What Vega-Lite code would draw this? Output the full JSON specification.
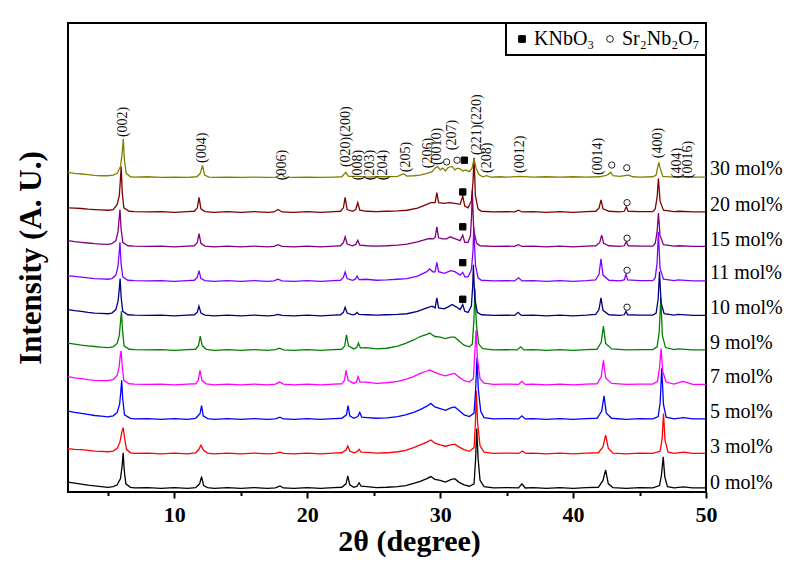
{
"$schema":"https://vega.github.io/schema/vega-lite/v6.json",
"width":638,"height":469,
"autosize":{"type":"none"},
"padding":{"left":68,"top":23,"right":93,"bottom":89},
"background":"white",
"config":{"font":"Liberation Serif","view":{"stroke":"black","strokeWidth":2},
"legend":{"labelFont":"Liberation Serif","labelFontSize":20,"labelColor":"black","symbolSize":45,"symbolStrokeColor":"black","symbolStrokeWidth":1,"strokeColor":"black","strokeWidth":2,"fillColor":"white","padding":6,"labelOffset":2,"columnPadding":5,"symbolOffset":0}},
"layer":[
{"data":{"values":[
{"s":"0","x":2,"y":0.2},{"s":"0","x":2.5,"y":0.17},{"s":"0","x":3,"y":0.14},{"s":"0","x":3.5,"y":0.11},{"s":"0","x":4,"y":0.09},{"s":"0","x":4.5,"y":0.07},{"s":"0","x":5,"y":0.05},{"s":"0","x":5.4,"y":0.07},{"s":"0","x":5.7,"y":0.12},{"s":"0","x":5.95,"y":0.3},{"s":"0","x":6.08,"y":0.7},{"s":"0","x":6.15,"y":1.05},{"s":"0","x":6.23,"y":0.55},{"s":"0","x":6.35,"y":0.15},{"s":"0","x":6.7,"y":0.05},{"s":"0","x":7,"y":0.03},{"s":"0","x":8,"y":0.04},{"s":"0","x":9,"y":0.02},{"s":"0","x":10,"y":0.04},{"s":"0","x":11,"y":0.02},{"s":"0","x":11.6,"y":0.04},{"s":"0","x":11.9,"y":0.15},{"s":"0","x":12.05,"y":0.36},{"s":"0","x":12.2,"y":0.1},{"s":"0","x":12.5,"y":0.04},{"s":"0","x":13,"y":0.02},{"s":"0","x":14,"y":0.04},{"s":"0","x":15,"y":0.02},{"s":"0","x":16,"y":0.04},{"s":"0","x":17,"y":0.02},{"s":"0","x":17.6,"y":0.03},{"s":"0","x":17.95,"y":0.09},{"s":"0","x":18.2,"y":0.03},{"s":"0","x":19,"y":0.02},{"s":"0","x":20,"y":0.04},{"s":"0","x":21,"y":0.02},{"s":"0","x":22,"y":0.04},{"s":"0","x":22.6,"y":0.05},{"s":"0","x":22.92,"y":0.15},{"s":"0","x":23.05,"y":0.38},{"s":"0","x":23.2,"y":0.12},{"s":"0","x":23.5,"y":0.05},{"s":"0","x":23.75,"y":0.08},{"s":"0","x":23.9,"y":0.18},{"s":"0","x":24.05,"y":0.08},{"s":"0","x":24.5,"y":0.07},{"s":"0","x":25.2,"y":0.04},{"s":"0","x":26,"y":0.05},{"s":"0","x":26.8,"y":0.07},{"s":"0","x":27.4,"y":0.1},{"s":"0","x":28,"y":0.16},{"s":"0","x":28.5,"y":0.22},{"s":"0","x":29,"y":0.3},{"s":"0","x":29.3,"y":0.36},{"s":"0","x":29.6,"y":0.28},{"s":"0","x":30,"y":0.25},{"s":"0","x":30.4,"y":0.2},{"s":"0","x":30.8,"y":0.27},{"s":"0","x":31.1,"y":0.3},{"s":"0","x":31.4,"y":0.2},{"s":"0","x":31.8,"y":0.12},{"s":"0","x":32.2,"y":0.08},{"s":"0","x":32.55,"y":0.15},{"s":"0","x":32.67,"y":0.9},{"s":"0","x":32.75,"y":1.75},{"s":"0","x":32.85,"y":0.9},{"s":"0","x":33,"y":0.25},{"s":"0","x":33.3,"y":0.07},{"s":"0","x":34,"y":0.03},{"s":"0","x":35,"y":0.04},{"s":"0","x":35.9,"y":0.03},{"s":"0","x":36.15,"y":0.15},{"s":"0","x":36.4,"y":0.03},{"s":"0","x":37,"y":0.04},{"s":"0","x":38,"y":0.02},{"s":"0","x":39,"y":0.04},{"s":"0","x":40,"y":0.02},{"s":"0","x":41,"y":0.04},{"s":"0","x":41.9,"y":0.05},{"s":"0","x":42.25,"y":0.25},{"s":"0","x":42.45,"y":0.55},{"s":"0","x":42.65,"y":0.15},{"s":"0","x":43,"y":0.04},{"s":"0","x":44,"y":0.02},{"s":"0","x":45,"y":0.04},{"s":"0","x":46,"y":0.03},{"s":"0","x":46.5,"y":0.1},{"s":"0","x":46.65,"y":0.4},{"s":"0","x":46.78,"y":0.93},{"s":"0","x":46.9,"y":0.35},{"s":"0","x":47.1,"y":0.07},{"s":"0","x":47.6,"y":0.03},{"s":"0","x":48.3,"y":0.06},{"s":"0","x":49,"y":0.03},{"s":"0","x":50,"y":0.03},
{"s":"3","x":2,"y":1.17},{"s":"3","x":2.5,"y":1.15},{"s":"3","x":3,"y":1.14},{"s":"3","x":3.5,"y":1.12},{"s":"3","x":4,"y":1.1},{"s":"3","x":4.5,"y":1.09},{"s":"3","x":5,"y":1.08},{"s":"3","x":5.4,"y":1.1},{"s":"3","x":5.7,"y":1.18},{"s":"3","x":5.9,"y":1.35},{"s":"3","x":6.05,"y":1.65},{"s":"3","x":6.15,"y":1.78},{"s":"3","x":6.25,"y":1.5},{"s":"3","x":6.4,"y":1.15},{"s":"3","x":6.7,"y":1.05},{"s":"3","x":7,"y":1.03},{"s":"3","x":8,"y":1.04},{"s":"3","x":9,"y":1.02},{"s":"3","x":10,"y":1.04},{"s":"3","x":11,"y":1.02},{"s":"3","x":11.6,"y":1.05},{"s":"3","x":11.85,"y":1.15},{"s":"3","x":12,"y":1.27},{"s":"3","x":12.2,"y":1.12},{"s":"3","x":12.5,"y":1.04},{"s":"3","x":13,"y":1.02},{"s":"3","x":14,"y":1.04},{"s":"3","x":15,"y":1.02},{"s":"3","x":16,"y":1.04},{"s":"3","x":17,"y":1.02},{"s":"3","x":17.6,"y":1.03},{"s":"3","x":17.95,"y":1.07},{"s":"3","x":18.2,"y":1.03},{"s":"3","x":19,"y":1.02},{"s":"3","x":20,"y":1.04},{"s":"3","x":21,"y":1.02},{"s":"3","x":22,"y":1.04},{"s":"3","x":22.6,"y":1.05},{"s":"3","x":22.92,"y":1.13},{"s":"3","x":23.05,"y":1.25},{"s":"3","x":23.2,"y":1.1},{"s":"3","x":23.5,"y":1.05},{"s":"3","x":23.75,"y":1.08},{"s":"3","x":23.9,"y":1.15},{"s":"3","x":24.05,"y":1.07},{"s":"3","x":24.5,"y":1.06},{"s":"3","x":25.2,"y":1.04},{"s":"3","x":26,"y":1.05},{"s":"3","x":26.8,"y":1.08},{"s":"3","x":27.4,"y":1.12},{"s":"3","x":28,"y":1.2},{"s":"3","x":28.5,"y":1.28},{"s":"3","x":29,"y":1.36},{"s":"3","x":29.3,"y":1.42},{"s":"3","x":29.6,"y":1.33},{"s":"3","x":30,"y":1.28},{"s":"3","x":30.4,"y":1.24},{"s":"3","x":30.8,"y":1.28},{"s":"3","x":31.1,"y":1.3},{"s":"3","x":31.4,"y":1.22},{"s":"3","x":31.8,"y":1.14},{"s":"3","x":32.2,"y":1.09},{"s":"3","x":32.55,"y":1.2},{"s":"3","x":32.65,"y":1.9},{"s":"3","x":32.72,"y":2.85},{"s":"3","x":32.82,"y":1.9},{"s":"3","x":33,"y":1.25},{"s":"3","x":33.3,"y":1.07},{"s":"3","x":34,"y":1.03},{"s":"3","x":35,"y":1.04},{"s":"3","x":35.9,"y":1.03},{"s":"3","x":36.2,"y":1.1},{"s":"3","x":36.45,"y":1.03},{"s":"3","x":37,"y":1.04},{"s":"3","x":38,"y":1.02},{"s":"3","x":39,"y":1.04},{"s":"3","x":40,"y":1.02},{"s":"3","x":41,"y":1.04},{"s":"3","x":41.9,"y":1.05},{"s":"3","x":42.25,"y":1.22},{"s":"3","x":42.45,"y":1.56},{"s":"3","x":42.65,"y":1.18},{"s":"3","x":43,"y":1.04},{"s":"3","x":44,"y":1.02},{"s":"3","x":45,"y":1.04},{"s":"3","x":46,"y":1.03},{"s":"3","x":46.55,"y":1.1},{"s":"3","x":46.7,"y":1.45},{"s":"3","x":46.8,"y":2.19},{"s":"3","x":46.92,"y":1.4},{"s":"3","x":47.15,"y":1.07},{"s":"3","x":47.6,"y":1.03},{"s":"3","x":48.3,"y":1.07},{"s":"3","x":49,"y":1.03},{"s":"3","x":50,"y":1.03},
{"s":"5","x":2,"y":2.26},{"s":"5","x":2.5,"y":2.22},{"s":"5","x":3,"y":2.19},{"s":"5","x":3.5,"y":2.16},{"s":"5","x":4,"y":2.13},{"s":"5","x":4.5,"y":2.11},{"s":"5","x":5,"y":2.09},{"s":"5","x":5.4,"y":2.12},{"s":"5","x":5.7,"y":2.22},{"s":"5","x":5.88,"y":2.45},{"s":"5","x":5.97,"y":2.8},{"s":"5","x":6.04,"y":3.15},{"s":"5","x":6.12,"y":2.6},{"s":"5","x":6.25,"y":2.15},{"s":"5","x":6.7,"y":2.05},{"s":"5","x":7,"y":2.03},{"s":"5","x":8,"y":2.04},{"s":"5","x":9,"y":2.02},{"s":"5","x":10,"y":2.04},{"s":"5","x":11,"y":2.02},{"s":"5","x":11.6,"y":2.05},{"s":"5","x":11.93,"y":2.18},{"s":"5","x":12.05,"y":2.42},{"s":"5","x":12.17,"y":2.12},{"s":"5","x":12.5,"y":2.04},{"s":"5","x":13,"y":2.02},{"s":"5","x":14,"y":2.04},{"s":"5","x":15,"y":2.02},{"s":"5","x":16,"y":2.04},{"s":"5","x":17,"y":2.02},{"s":"5","x":17.6,"y":2.03},{"s":"5","x":17.95,"y":2.08},{"s":"5","x":18.2,"y":2.03},{"s":"5","x":19,"y":2.02},{"s":"5","x":20,"y":2.04},{"s":"5","x":21,"y":2.02},{"s":"5","x":22,"y":2.04},{"s":"5","x":22.6,"y":2.05},{"s":"5","x":22.95,"y":2.15},{"s":"5","x":23.07,"y":2.42},{"s":"5","x":23.2,"y":2.12},{"s":"5","x":23.5,"y":2.05},{"s":"5","x":23.8,"y":2.1},{"s":"5","x":23.95,"y":2.22},{"s":"5","x":24.1,"y":2.08},{"s":"5","x":24.5,"y":2.07},{"s":"5","x":25.2,"y":2.05},{"s":"5","x":26,"y":2.06},{"s":"5","x":26.8,"y":2.1},{"s":"5","x":27.4,"y":2.15},{"s":"5","x":28,"y":2.22},{"s":"5","x":28.5,"y":2.3},{"s":"5","x":29,"y":2.4},{"s":"5","x":29.3,"y":2.48},{"s":"5","x":29.6,"y":2.38},{"s":"5","x":30,"y":2.33},{"s":"5","x":30.4,"y":2.28},{"s":"5","x":30.8,"y":2.35},{"s":"5","x":31.1,"y":2.38},{"s":"5","x":31.4,"y":2.28},{"s":"5","x":31.8,"y":2.15},{"s":"5","x":32.2,"y":2.1},{"s":"5","x":32.55,"y":2.2},{"s":"5","x":32.67,"y":2.9},{"s":"5","x":32.77,"y":3.8},{"s":"5","x":32.87,"y":2.9},{"s":"5","x":33.05,"y":2.25},{"s":"5","x":33.3,"y":2.07},{"s":"5","x":34,"y":2.03},{"s":"5","x":35,"y":2.04},{"s":"5","x":35.9,"y":2.03},{"s":"5","x":36.15,"y":2.12},{"s":"5","x":36.4,"y":2.03},{"s":"5","x":37,"y":2.04},{"s":"5","x":38,"y":2.02},{"s":"5","x":39,"y":2.04},{"s":"5","x":40,"y":2.02},{"s":"5","x":41,"y":2.04},{"s":"5","x":41.8,"y":2.05},{"s":"5","x":42.15,"y":2.25},{"s":"5","x":42.33,"y":2.7},{"s":"5","x":42.5,"y":2.2},{"s":"5","x":42.9,"y":2.05},{"s":"5","x":44,"y":2.02},{"s":"5","x":45,"y":2.04},{"s":"5","x":46,"y":2.03},{"s":"5","x":46.4,"y":2.1},{"s":"5","x":46.55,"y":2.5},{"s":"5","x":46.67,"y":3.5},{"s":"5","x":46.8,"y":2.45},{"s":"5","x":47,"y":2.08},{"s":"5","x":47.6,"y":2.03},{"s":"5","x":48.3,"y":2.07},{"s":"5","x":49,"y":2.03},{"s":"5","x":50,"y":2.03},
{"s":"7","x":2,"y":3.26},{"s":"7","x":2.5,"y":3.22},{"s":"7","x":3,"y":3.2},{"s":"7","x":3.5,"y":3.17},{"s":"7","x":4,"y":3.15},{"s":"7","x":4.5,"y":3.14},{"s":"7","x":5,"y":3.14},{"s":"7","x":5.4,"y":3.17},{"s":"7","x":5.7,"y":3.3},{"s":"7","x":5.85,"y":3.55},{"s":"7","x":5.94,"y":3.9},{"s":"7","x":6,"y":4.0},{"s":"7","x":6.08,"y":3.55},{"s":"7","x":6.2,"y":3.15},{"s":"7","x":6.6,"y":3.05},{"s":"7","x":7,"y":3.04},{"s":"7","x":8,"y":3.03},{"s":"7","x":9,"y":3.04},{"s":"7","x":10,"y":3.02},{"s":"7","x":11,"y":3.04},{"s":"7","x":11.6,"y":3.05},{"s":"7","x":11.8,"y":3.15},{"s":"7","x":11.93,"y":3.44},{"s":"7","x":12.08,"y":3.15},{"s":"7","x":12.4,"y":3.05},{"s":"7","x":13,"y":3.02},{"s":"7","x":14,"y":3.04},{"s":"7","x":15,"y":3.02},{"s":"7","x":16,"y":3.04},{"s":"7","x":17,"y":3.02},{"s":"7","x":17.6,"y":3.04},{"s":"7","x":17.92,"y":3.1},{"s":"7","x":18.2,"y":3.04},{"s":"7","x":19,"y":3.02},{"s":"7","x":20,"y":3.04},{"s":"7","x":21,"y":3.02},{"s":"7","x":22,"y":3.04},{"s":"7","x":22.6,"y":3.05},{"s":"7","x":22.8,"y":3.15},{"s":"7","x":22.92,"y":3.44},{"s":"7","x":23.07,"y":3.15},{"s":"7","x":23.5,"y":3.06},{"s":"7","x":23.7,"y":3.1},{"s":"7","x":23.82,"y":3.26},{"s":"7","x":23.97,"y":3.1},{"s":"7","x":24.4,"y":3.1},{"s":"7","x":25.2,"y":3.06},{"s":"7","x":26,"y":3.08},{"s":"7","x":26.8,"y":3.12},{"s":"7","x":27.4,"y":3.18},{"s":"7","x":28,"y":3.26},{"s":"7","x":28.5,"y":3.35},{"s":"7","x":29,"y":3.42},{"s":"7","x":29.2,"y":3.45},{"s":"7","x":29.6,"y":3.38},{"s":"7","x":30,"y":3.32},{"s":"7","x":30.4,"y":3.28},{"s":"7","x":30.8,"y":3.33},{"s":"7","x":31.1,"y":3.35},{"s":"7","x":31.4,"y":3.25},{"s":"7","x":31.8,"y":3.14},{"s":"7","x":32.2,"y":3.1},{"s":"7","x":32.5,"y":3.2},{"s":"7","x":32.6,"y":3.9},{"s":"7","x":32.7,"y":4.6},{"s":"7","x":32.8,"y":3.8},{"s":"7","x":33,"y":3.2},{"s":"7","x":33.3,"y":3.07},{"s":"7","x":34,"y":3.03},{"s":"7","x":35,"y":3.04},{"s":"7","x":35.9,"y":3.03},{"s":"7","x":36.15,"y":3.12},{"s":"7","x":36.4,"y":3.03},{"s":"7","x":37,"y":3.04},{"s":"7","x":38,"y":3.02},{"s":"7","x":39,"y":3.04},{"s":"7","x":40,"y":3.02},{"s":"7","x":41,"y":3.04},{"s":"7","x":41.8,"y":3.05},{"s":"7","x":42.12,"y":3.25},{"s":"7","x":42.28,"y":3.73},{"s":"7","x":42.45,"y":3.22},{"s":"7","x":42.9,"y":3.06},{"s":"7","x":44,"y":3.03},{"s":"7","x":45,"y":3.04},{"s":"7","x":46,"y":3.04},{"s":"7","x":46.35,"y":3.12},{"s":"7","x":46.5,"y":3.5},{"s":"7","x":46.62,"y":4.07},{"s":"7","x":46.75,"y":3.4},{"s":"7","x":47,"y":3.1},{"s":"7","x":47.6,"y":3.04},{"s":"7","x":48.25,"y":3.12},{"s":"7","x":48.6,"y":3.08},{"s":"7","x":49,"y":3.03},{"s":"7","x":50,"y":3.03},
{"s":"9","x":2,"y":4.23},{"s":"9","x":2.5,"y":4.2},{"s":"9","x":3,"y":4.17},{"s":"9","x":3.5,"y":4.15},{"s":"9","x":4,"y":4.13},{"s":"9","x":4.5,"y":4.11},{"s":"9","x":5,"y":4.1},{"s":"9","x":5.4,"y":4.12},{"s":"9","x":5.7,"y":4.22},{"s":"9","x":5.86,"y":4.45},{"s":"9","x":5.95,"y":4.85},{"s":"9","x":6.02,"y":5.15},{"s":"9","x":6.1,"y":4.6},{"s":"9","x":6.22,"y":4.15},{"s":"9","x":6.6,"y":4.05},{"s":"9","x":7,"y":4.04},{"s":"9","x":8,"y":4.03},{"s":"9","x":9,"y":4.04},{"s":"9","x":10,"y":4.02},{"s":"9","x":11,"y":4.04},{"s":"9","x":11.6,"y":4.05},{"s":"9","x":11.82,"y":4.16},{"s":"9","x":11.95,"y":4.43},{"s":"9","x":12.1,"y":4.15},{"s":"9","x":12.4,"y":4.05},{"s":"9","x":13,"y":4.02},{"s":"9","x":14,"y":4.04},{"s":"9","x":15,"y":4.02},{"s":"9","x":16,"y":4.04},{"s":"9","x":17,"y":4.02},{"s":"9","x":17.6,"y":4.04},{"s":"9","x":17.92,"y":4.08},{"s":"9","x":18.2,"y":4.03},{"s":"9","x":19,"y":4.02},{"s":"9","x":20,"y":4.04},{"s":"9","x":21,"y":4.02},{"s":"9","x":22,"y":4.04},{"s":"9","x":22.6,"y":4.05},{"s":"9","x":22.82,"y":4.15},{"s":"9","x":22.95,"y":4.47},{"s":"9","x":23.1,"y":4.15},{"s":"9","x":23.5,"y":4.06},{"s":"9","x":23.72,"y":4.1},{"s":"9","x":23.85,"y":4.23},{"s":"9","x":24,"y":4.09},{"s":"9","x":24.5,"y":4.1},{"s":"9","x":25.2,"y":4.06},{"s":"9","x":26,"y":4.08},{"s":"9","x":26.8,"y":4.14},{"s":"9","x":27.4,"y":4.22},{"s":"9","x":28,"y":4.32},{"s":"9","x":28.5,"y":4.42},{"s":"9","x":29,"y":4.48},{"s":"9","x":29.2,"y":4.52},{"s":"9","x":29.6,"y":4.42},{"s":"9","x":30,"y":4.4},{"s":"9","x":30.4,"y":4.36},{"s":"9","x":30.8,"y":4.4},{"s":"9","x":31.1,"y":4.4},{"s":"9","x":31.4,"y":4.3},{"s":"9","x":31.8,"y":4.17},{"s":"9","x":32.2,"y":4.12},{"s":"9","x":32.42,"y":4.2},{"s":"9","x":32.54,"y":4.9},{"s":"9","x":32.62,"y":5.8},{"s":"9","x":32.72,"y":4.8},{"s":"9","x":32.9,"y":4.2},{"s":"9","x":33.2,"y":4.07},{"s":"9","x":34,"y":4.03},{"s":"9","x":35,"y":4.04},{"s":"9","x":35.8,"y":4.03},{"s":"9","x":36.05,"y":4.12},{"s":"9","x":36.3,"y":4.03},{"s":"9","x":37,"y":4.04},{"s":"9","x":38,"y":4.02},{"s":"9","x":39,"y":4.04},{"s":"9","x":40,"y":4.02},{"s":"9","x":41,"y":4.04},{"s":"9","x":41.8,"y":4.05},{"s":"9","x":42.12,"y":4.25},{"s":"9","x":42.28,"y":4.72},{"s":"9","x":42.45,"y":4.22},{"s":"9","x":42.9,"y":4.06},{"s":"9","x":44,"y":4.03},{"s":"9","x":45,"y":4.04},{"s":"9","x":46,"y":4.04},{"s":"9","x":46.32,"y":4.12},{"s":"9","x":46.48,"y":4.55},{"s":"9","x":46.6,"y":5.55},{"s":"9","x":46.72,"y":4.45},{"s":"9","x":46.95,"y":4.1},{"s":"9","x":47.6,"y":4.04},{"s":"9","x":47.9,"y":4.06},{"s":"9","x":49,"y":4.03},{"s":"9","x":50,"y":4.03},
{"s":"10","x":2,"y":5.2},{"s":"10","x":2.5,"y":5.17},{"s":"10","x":3,"y":5.15},{"s":"10","x":3.5,"y":5.12},{"s":"10","x":4,"y":5.1},{"s":"10","x":4.5,"y":5.09},{"s":"10","x":5,"y":5.08},{"s":"10","x":5.3,"y":5.1},{"s":"10","x":5.6,"y":5.2},{"s":"10","x":5.77,"y":5.45},{"s":"10","x":5.86,"y":5.8},{"s":"10","x":5.92,"y":6.1},{"s":"10","x":6,"y":5.55},{"s":"10","x":6.12,"y":5.15},{"s":"10","x":6.5,"y":5.05},{"s":"10","x":7,"y":5.04},{"s":"10","x":8,"y":5.03},{"s":"10","x":9,"y":5.04},{"s":"10","x":10,"y":5.02},{"s":"10","x":11,"y":5.04},{"s":"10","x":11.5,"y":5.05},{"s":"10","x":11.72,"y":5.12},{"s":"10","x":11.85,"y":5.3},{"s":"10","x":12,"y":5.1},{"s":"10","x":12.3,"y":5.04},{"s":"10","x":13,"y":5.02},{"s":"10","x":14,"y":5.04},{"s":"10","x":15,"y":5.02},{"s":"10","x":16,"y":5.04},{"s":"10","x":17,"y":5.02},{"s":"10","x":17.5,"y":5.03},{"s":"10","x":17.8,"y":5.06},{"s":"10","x":18.1,"y":5.03},{"s":"10","x":19,"y":5.02},{"s":"10","x":20,"y":5.04},{"s":"10","x":21,"y":5.02},{"s":"10","x":22,"y":5.04},{"s":"10","x":22.5,"y":5.05},{"s":"10","x":22.72,"y":5.12},{"s":"10","x":22.85,"y":5.27},{"s":"10","x":23,"y":5.1},{"s":"10","x":23.4,"y":5.05},{"s":"10","x":23.62,"y":5.07},{"s":"10","x":23.75,"y":5.12},{"s":"10","x":23.9,"y":5.06},{"s":"10","x":24.5,"y":5.05},{"s":"10","x":25.2,"y":5.04},{"s":"10","x":26,"y":5.05},{"s":"10","x":26.8,"y":5.06},{"s":"10","x":27.5,"y":5.08},{"s":"10","x":28.3,"y":5.15},{"s":"10","x":29,"y":5.25},{"s":"10","x":29.4,"y":5.3},{"s":"10","x":29.62,"y":5.25},{"s":"10","x":29.75,"y":5.54},{"s":"10","x":29.88,"y":5.25},{"s":"10","x":30.3,"y":5.22},{"s":"10","x":30.6,"y":5.28},{"s":"10","x":30.9,"y":5.35},{"s":"10","x":31.2,"y":5.28},{"s":"10","x":31.5,"y":5.2},{"s":"10","x":31.7,"y":5.35},{"s":"10","x":31.85,"y":5.15},{"s":"10","x":32.1,"y":5.12},{"s":"10","x":32.35,"y":5.3},{"s":"10","x":32.45,"y":5.9},{"s":"10","x":32.5,"y":6.5},{"s":"10","x":32.6,"y":5.5},{"s":"10","x":32.8,"y":5.12},{"s":"10","x":33.1,"y":5.05},{"s":"10","x":34,"y":5.03},{"s":"10","x":35,"y":5.04},{"s":"10","x":35.6,"y":5.03},{"s":"10","x":35.86,"y":5.12},{"s":"10","x":36.1,"y":5.03},{"s":"10","x":37,"y":5.04},{"s":"10","x":38,"y":5.02},{"s":"10","x":39,"y":5.04},{"s":"10","x":40,"y":5.02},{"s":"10","x":41,"y":5.04},{"s":"10","x":41.7,"y":5.06},{"s":"10","x":41.95,"y":5.2},{"s":"10","x":42.1,"y":5.54},{"s":"10","x":42.25,"y":5.18},{"s":"10","x":42.7,"y":5.05},{"s":"10","x":43.5,"y":5.03},{"s":"10","x":43.85,"y":5.05},{"s":"10","x":43.98,"y":5.15},{"s":"10","x":44.1,"y":5.05},{"s":"10","x":45,"y":5.04},{"s":"10","x":46,"y":5.04},{"s":"10","x":46.25,"y":5.1},{"s":"10","x":46.4,"y":5.5},{"s":"10","x":46.5,"y":6.3},{"s":"10","x":46.62,"y":5.4},{"s":"10","x":46.85,"y":5.08},{"s":"10","x":47.6,"y":5.04},{"s":"10","x":47.9,"y":5.06},{"s":"10","x":49,"y":5.03},{"s":"10","x":50,"y":5.03},
{"s":"11","x":2,"y":6.18},{"s":"11","x":2.5,"y":6.16},{"s":"11","x":3,"y":6.14},{"s":"11","x":3.5,"y":6.12},{"s":"11","x":4,"y":6.1},{"s":"11","x":4.5,"y":6.09},{"s":"11","x":5,"y":6.08},{"s":"11","x":5.3,"y":6.1},{"s":"11","x":5.6,"y":6.2},{"s":"11","x":5.76,"y":6.45},{"s":"11","x":5.85,"y":6.85},{"s":"11","x":5.91,"y":7.15},{"s":"11","x":5.99,"y":6.55},{"s":"11","x":6.12,"y":6.15},{"s":"11","x":6.5,"y":6.05},{"s":"11","x":7,"y":6.04},{"s":"11","x":8,"y":6.03},{"s":"11","x":9,"y":6.04},{"s":"11","x":10,"y":6.02},{"s":"11","x":11,"y":6.04},{"s":"11","x":11.5,"y":6.05},{"s":"11","x":11.73,"y":6.14},{"s":"11","x":11.86,"y":6.33},{"s":"11","x":12,"y":6.1},{"s":"11","x":12.3,"y":6.04},{"s":"11","x":13,"y":6.02},{"s":"11","x":14,"y":6.04},{"s":"11","x":15,"y":6.02},{"s":"11","x":16,"y":6.04},{"s":"11","x":17,"y":6.02},{"s":"11","x":17.5,"y":6.03},{"s":"11","x":17.8,"y":6.08},{"s":"11","x":18.1,"y":6.03},{"s":"11","x":19,"y":6.02},{"s":"11","x":20,"y":6.04},{"s":"11","x":21,"y":6.02},{"s":"11","x":22,"y":6.04},{"s":"11","x":22.5,"y":6.05},{"s":"11","x":22.72,"y":6.13},{"s":"11","x":22.85,"y":6.29},{"s":"11","x":23,"y":6.1},{"s":"11","x":23.4,"y":6.05},{"s":"11","x":23.62,"y":6.08},{"s":"11","x":23.75,"y":6.17},{"s":"11","x":23.9,"y":6.07},{"s":"11","x":24.4,"y":6.08},{"s":"11","x":25.2,"y":6.05},{"s":"11","x":26,"y":6.06},{"s":"11","x":26.8,"y":6.08},{"s":"11","x":27.5,"y":6.1},{"s":"11","x":28.3,"y":6.17},{"s":"11","x":29,"y":6.3},{"s":"11","x":29.2,"y":6.38},{"s":"11","x":29.5,"y":6.28},{"s":"11","x":29.62,"y":6.3},{"s":"11","x":29.75,"y":6.57},{"s":"11","x":29.88,"y":6.3},{"s":"11","x":30.3,"y":6.25},{"s":"11","x":30.8,"y":6.33},{"s":"11","x":31.1,"y":6.3},{"s":"11","x":31.5,"y":6.2},{"s":"11","x":31.7,"y":6.28},{"s":"11","x":31.85,"y":6.15},{"s":"11","x":32.1,"y":6.15},{"s":"11","x":32.35,"y":6.35},{"s":"11","x":32.47,"y":6.9},{"s":"11","x":32.53,"y":7.6},{"s":"11","x":32.65,"y":6.5},{"s":"11","x":32.85,"y":6.12},{"s":"11","x":33.1,"y":6.05},{"s":"11","x":34,"y":6.03},{"s":"11","x":35,"y":6.04},{"s":"11","x":35.6,"y":6.03},{"s":"11","x":35.9,"y":6.12},{"s":"11","x":36.15,"y":6.03},{"s":"11","x":37,"y":6.04},{"s":"11","x":38,"y":6.02},{"s":"11","x":39,"y":6.04},{"s":"11","x":40,"y":6.02},{"s":"11","x":41,"y":6.04},{"s":"11","x":41.7,"y":6.06},{"s":"11","x":41.95,"y":6.22},{"s":"11","x":42.1,"y":6.67},{"s":"11","x":42.25,"y":6.2},{"s":"11","x":42.7,"y":6.05},{"s":"11","x":43.5,"y":6.03},{"s":"11","x":43.85,"y":6.06},{"s":"11","x":43.98,"y":6.23},{"s":"11","x":44.1,"y":6.06},{"s":"11","x":45,"y":6.04},{"s":"11","x":46,"y":6.04},{"s":"11","x":46.18,"y":6.12},{"s":"11","x":46.32,"y":6.55},{"s":"11","x":46.42,"y":7.45},{"s":"11","x":46.54,"y":6.4},{"s":"11","x":46.8,"y":6.08},{"s":"11","x":47.6,"y":6.04},{"s":"11","x":47.9,"y":6.06},{"s":"11","x":49,"y":6.03},{"s":"11","x":50,"y":6.03},
{"s":"15","x":2,"y":7.2},{"s":"15","x":2.5,"y":7.17},{"s":"15","x":3,"y":7.15},{"s":"15","x":3.5,"y":7.13},{"s":"15","x":4,"y":7.11},{"s":"15","x":4.5,"y":7.1},{"s":"15","x":5,"y":7.09},{"s":"15","x":5.3,"y":7.11},{"s":"15","x":5.6,"y":7.2},{"s":"15","x":5.76,"y":7.45},{"s":"15","x":5.85,"y":7.85},{"s":"15","x":5.91,"y":8.1},{"s":"15","x":5.99,"y":7.55},{"s":"15","x":6.12,"y":7.15},{"s":"15","x":6.5,"y":7.05},{"s":"15","x":7,"y":7.04},{"s":"15","x":8,"y":7.03},{"s":"15","x":9,"y":7.04},{"s":"15","x":10,"y":7.02},{"s":"15","x":11,"y":7.04},{"s":"15","x":11.5,"y":7.05},{"s":"15","x":11.73,"y":7.15},{"s":"15","x":11.86,"y":7.4},{"s":"15","x":12,"y":7.12},{"s":"15","x":12.3,"y":7.04},{"s":"15","x":13,"y":7.02},{"s":"15","x":14,"y":7.04},{"s":"15","x":15,"y":7.02},{"s":"15","x":16,"y":7.04},{"s":"15","x":17,"y":7.02},{"s":"15","x":17.5,"y":7.03},{"s":"15","x":17.8,"y":7.08},{"s":"15","x":18.1,"y":7.03},{"s":"15","x":19,"y":7.02},{"s":"15","x":20,"y":7.04},{"s":"15","x":21,"y":7.02},{"s":"15","x":22,"y":7.04},{"s":"15","x":22.5,"y":7.05},{"s":"15","x":22.72,"y":7.14},{"s":"15","x":22.85,"y":7.31},{"s":"15","x":23,"y":7.1},{"s":"15","x":23.4,"y":7.05},{"s":"15","x":23.65,"y":7.09},{"s":"15","x":23.8,"y":7.21},{"s":"15","x":23.95,"y":7.07},{"s":"15","x":24.5,"y":7.05},{"s":"15","x":25.2,"y":7.04},{"s":"15","x":26,"y":7.05},{"s":"15","x":26.8,"y":7.07},{"s":"15","x":27.5,"y":7.1},{"s":"15","x":28.3,"y":7.16},{"s":"15","x":29,"y":7.24},{"s":"15","x":29.2,"y":7.26},{"s":"15","x":29.5,"y":7.25},{"s":"15","x":29.63,"y":7.3},{"s":"15","x":29.75,"y":7.6},{"s":"15","x":29.88,"y":7.28},{"s":"15","x":30.2,"y":7.25},{"s":"15","x":30.5,"y":7.25},{"s":"15","x":30.75,"y":7.31},{"s":"15","x":31.1,"y":7.26},{"s":"15","x":31.5,"y":7.2},{"s":"15","x":31.7,"y":7.36},{"s":"15","x":31.85,"y":7.15},{"s":"15","x":32.1,"y":7.15},{"s":"15","x":32.28,"y":7.35},{"s":"15","x":32.36,"y":7.9},{"s":"15","x":32.42,"y":8.65},{"s":"15","x":32.52,"y":7.5},{"s":"15","x":32.75,"y":7.12},{"s":"15","x":33,"y":7.05},{"s":"15","x":34,"y":7.03},{"s":"15","x":35,"y":7.04},{"s":"15","x":35.6,"y":7.03},{"s":"15","x":35.9,"y":7.08},{"s":"15","x":36.15,"y":7.03},{"s":"15","x":37,"y":7.04},{"s":"15","x":38,"y":7.02},{"s":"15","x":39,"y":7.04},{"s":"15","x":40,"y":7.02},{"s":"15","x":41,"y":7.04},{"s":"15","x":41.7,"y":7.05},{"s":"15","x":42,"y":7.14},{"s":"15","x":42.15,"y":7.36},{"s":"15","x":42.3,"y":7.12},{"s":"15","x":42.7,"y":7.05},{"s":"15","x":43.5,"y":7.03},{"s":"15","x":43.85,"y":7.05},{"s":"15","x":44,"y":7.17},{"s":"15","x":44.15,"y":7.05},{"s":"15","x":45,"y":7.04},{"s":"15","x":46,"y":7.04},{"s":"15","x":46.18,"y":7.12},{"s":"15","x":46.32,"y":7.45},{"s":"15","x":46.42,"y":8.0},{"s":"15","x":46.54,"y":7.35},{"s":"15","x":46.8,"y":7.08},{"s":"15","x":47.6,"y":7.04},{"s":"15","x":48,"y":7.05},{"s":"15","x":49,"y":7.03},{"s":"15","x":50,"y":7.03},
{"s":"20","x":2,"y":8.15},{"s":"20","x":2.5,"y":8.14},{"s":"20","x":3,"y":8.13},{"s":"20","x":3.5,"y":8.11},{"s":"20","x":4,"y":8.1},{"s":"20","x":4.5,"y":8.09},{"s":"20","x":5,"y":8.08},{"s":"20","x":5.4,"y":8.1},{"s":"20","x":5.7,"y":8.25},{"s":"20","x":5.86,"y":8.5},{"s":"20","x":5.94,"y":8.95},{"s":"20","x":6,"y":9.35},{"s":"20","x":6.08,"y":8.6},{"s":"20","x":6.2,"y":8.15},{"s":"20","x":6.6,"y":8.05},{"s":"20","x":7,"y":8.04},{"s":"20","x":8,"y":8.03},{"s":"20","x":9,"y":8.04},{"s":"20","x":10,"y":8.02},{"s":"20","x":11,"y":8.04},{"s":"20","x":11.5,"y":8.05},{"s":"20","x":11.73,"y":8.15},{"s":"20","x":11.86,"y":8.45},{"s":"20","x":12,"y":8.12},{"s":"20","x":12.3,"y":8.04},{"s":"20","x":13,"y":8.02},{"s":"20","x":14,"y":8.04},{"s":"20","x":15,"y":8.02},{"s":"20","x":16,"y":8.04},{"s":"20","x":17,"y":8.02},{"s":"20","x":17.5,"y":8.03},{"s":"20","x":17.8,"y":8.1},{"s":"20","x":18.1,"y":8.03},{"s":"20","x":19,"y":8.02},{"s":"20","x":20,"y":8.04},{"s":"20","x":21,"y":8.02},{"s":"20","x":22,"y":8.04},{"s":"20","x":22.5,"y":8.05},{"s":"20","x":22.72,"y":8.15},{"s":"20","x":22.85,"y":8.45},{"s":"20","x":23,"y":8.1},{"s":"20","x":23.4,"y":8.05},{"s":"20","x":23.65,"y":8.1},{"s":"20","x":23.8,"y":8.3},{"s":"20","x":23.95,"y":8.08},{"s":"20","x":24.5,"y":8.05},{"s":"20","x":25.2,"y":8.04},{"s":"20","x":26,"y":8.05},{"s":"20","x":26.8,"y":8.06},{"s":"20","x":27.5,"y":8.08},{"s":"20","x":28.3,"y":8.14},{"s":"20","x":29,"y":8.25},{"s":"20","x":29.3,"y":8.3},{"s":"20","x":29.62,"y":8.3},{"s":"20","x":29.75,"y":8.59},{"s":"20","x":29.88,"y":8.3},{"s":"20","x":30.3,"y":8.28},{"s":"20","x":30.7,"y":8.3},{"s":"20","x":31.1,"y":8.28},{"s":"20","x":31.5,"y":8.25},{"s":"20","x":31.7,"y":8.49},{"s":"20","x":31.85,"y":8.2},{"s":"20","x":32.1,"y":8.15},{"s":"20","x":32.35,"y":8.35},{"s":"20","x":32.47,"y":8.9},{"s":"20","x":32.55,"y":9.6},{"s":"20","x":32.65,"y":8.5},{"s":"20","x":32.85,"y":8.12},{"s":"20","x":33.1,"y":8.05},{"s":"20","x":34,"y":8.03},{"s":"20","x":35,"y":8.04},{"s":"20","x":35.6,"y":8.03},{"s":"20","x":35.9,"y":8.08},{"s":"20","x":36.15,"y":8.03},{"s":"20","x":37,"y":8.04},{"s":"20","x":38,"y":8.02},{"s":"20","x":39,"y":8.04},{"s":"20","x":40,"y":8.02},{"s":"20","x":41,"y":8.04},{"s":"20","x":41.7,"y":8.05},{"s":"20","x":41.95,"y":8.14},{"s":"20","x":42.1,"y":8.38},{"s":"20","x":42.25,"y":8.12},{"s":"20","x":42.7,"y":8.05},{"s":"20","x":43.5,"y":8.03},{"s":"20","x":43.85,"y":8.05},{"s":"20","x":44,"y":8.18},{"s":"20","x":44.15,"y":8.05},{"s":"20","x":45,"y":8.04},{"s":"20","x":46,"y":8.04},{"s":"20","x":46.18,"y":8.12},{"s":"20","x":46.32,"y":8.45},{"s":"20","x":46.42,"y":9.0},{"s":"20","x":46.54,"y":8.35},{"s":"20","x":46.8,"y":8.08},{"s":"20","x":47.6,"y":8.04},{"s":"20","x":48,"y":8.05},{"s":"20","x":49,"y":8.03},{"s":"20","x":50,"y":8.03},
{"s":"30","x":2,"y":9.18},{"s":"30","x":2.5,"y":9.15},{"s":"30","x":3,"y":9.13},{"s":"30","x":3.5,"y":9.11},{"s":"30","x":4,"y":9.09},{"s":"30","x":4.5,"y":9.08},{"s":"30","x":5,"y":9.08},{"s":"30","x":5.4,"y":9.1},{"s":"30","x":5.7,"y":9.15},{"s":"30","x":5.95,"y":9.35},{"s":"30","x":6.08,"y":9.75},{"s":"30","x":6.16,"y":10.15},{"s":"30","x":6.24,"y":9.55},{"s":"30","x":6.38,"y":9.15},{"s":"30","x":6.7,"y":9.05},{"s":"30","x":7,"y":9.04},{"s":"30","x":8,"y":9.05},{"s":"30","x":9,"y":9.03},{"s":"30","x":10,"y":9.04},{"s":"30","x":11,"y":9.03},{"s":"30","x":11.7,"y":9.05},{"s":"30","x":11.95,"y":9.15},{"s":"30","x":12.12,"y":9.38},{"s":"30","x":12.28,"y":9.1},{"s":"30","x":12.6,"y":9.04},{"s":"30","x":13,"y":9.03},{"s":"30","x":14,"y":9.04},{"s":"30","x":15,"y":9.03},{"s":"30","x":16,"y":9.04},{"s":"30","x":17,"y":9.03},{"s":"30","x":17.7,"y":9.04},{"s":"30","x":18.05,"y":9.14},{"s":"30","x":18.3,"y":9.04},{"s":"30","x":19,"y":9.03},{"s":"30","x":20,"y":9.04},{"s":"30","x":21,"y":9.03},{"s":"30","x":22,"y":9.04},{"s":"30","x":22.6,"y":9.05},{"s":"30","x":22.9,"y":9.18},{"s":"30","x":23.1,"y":9.06},{"s":"30","x":23.8,"y":9.06},{"s":"30","x":24.5,"y":9.04},{"s":"30","x":25.2,"y":9.05},{"s":"30","x":26,"y":9.05},{"s":"30","x":26.8,"y":9.06},{"s":"30","x":27.25,"y":9.14},{"s":"30","x":27.5,"y":9.07},{"s":"30","x":28,"y":9.08},{"s":"30","x":28.5,"y":9.1},{"s":"30","x":29,"y":9.15},{"s":"30","x":29.4,"y":9.2},{"s":"30","x":29.6,"y":9.3},{"s":"30","x":29.8,"y":9.35},{"s":"30","x":30,"y":9.25},{"s":"30","x":30.2,"y":9.3},{"s":"30","x":30.4,"y":9.22},{"s":"30","x":30.6,"y":9.32},{"s":"30","x":30.9,"y":9.35},{"s":"30","x":31.1,"y":9.25},{"s":"30","x":31.3,"y":9.3},{"s":"30","x":31.5,"y":9.28},{"s":"30","x":31.7,"y":9.22},{"s":"30","x":31.9,"y":9.25},{"s":"30","x":32.2,"y":9.2},{"s":"30","x":32.4,"y":9.3},{"s":"30","x":32.55,"y":9.57},{"s":"30","x":32.7,"y":9.3},{"s":"30","x":32.9,"y":9.12},{"s":"30","x":33.2,"y":9.05},{"s":"30","x":33.5,"y":9.08},{"s":"30","x":33.8,"y":9.04},{"s":"30","x":34.5,"y":9.05},{"s":"30","x":35,"y":9.04},{"s":"30","x":36,"y":9.06},{"s":"30","x":37,"y":9.04},{"s":"30","x":38,"y":9.05},{"s":"30","x":39,"y":9.04},{"s":"30","x":40,"y":9.05},{"s":"30","x":41,"y":9.04},{"s":"30","x":42,"y":9.05},{"s":"30","x":42.4,"y":9.08},{"s":"30","x":42.65,"y":9.12},{"s":"30","x":42.83,"y":9.18},{"s":"30","x":43,"y":9.08},{"s":"30","x":43.5,"y":9.06},{"s":"30","x":44.16,"y":9.1},{"s":"30","x":44.5,"y":9.05},{"s":"30","x":45,"y":9.04},{"s":"30","x":46,"y":9.05},{"s":"30","x":46.25,"y":9.1},{"s":"30","x":46.35,"y":9.3},{"s":"30","x":46.45,"y":9.47},{"s":"30","x":46.55,"y":9.3},{"s":"30","x":46.75,"y":9.06},{"s":"30","x":47.6,"y":9.04},{"s":"30","x":48.3,"y":9.05},{"s":"30","x":49,"y":9.04},{"s":"30","x":50,"y":9.04}
]},
"mark":{"type":"line","strokeWidth":1.3},
"encoding":{
"x":{"field":"x","type":"quantitative","scale":{"domain":[2,50],"nice":false,"zero":false},
"axis":{"title":"2θ (degree)","values":[5,10,15,20,25,30,35,40,45,50],"labelExpr":"datum.value % 10 === 0 ? datum.label : ''","labelOverlap":false,"labelFlush":false,"tickSize":{"condition":{"test":"datum.value % 10 === 0","value":6},"value":3.5},"tickWidth":2,"tickColor":"black","domain":false,"grid":false,"labelFont":"Liberation Serif","labelFontSize":22,"labelFontWeight":"bold","labelColor":"black","labelPadding":6,"titleFont":"Liberation Serif","titleFontSize":30,"titleFontWeight":"bold","titleColor":"black","titleX":341,"titleY":58,"titleBaseline":"alphabetic","titleAlign":"center"}},
"y":{"field":"y","type":"quantitative","scale":{"domain":[-0.087,13.507],"nice":false,"zero":false},
"axis":{"title":"Intensity (A. U.)","ticks":false,"labels":false,"domain":false,"grid":false,"titleFont":"Liberation Serif","titleFontSize":31,"titleFontWeight":"bold","titleColor":"black","titlePadding":21}},
"color":{"field":"s","type":"nominal","sort":null,"scale":{"domain":["0","3","5","7","9","10","11","15","20","30"],"range":["#000000","#ff0000","#0000ff","#ff00ff","#008000","#000080","#8000ff","#800080","#800000","#808000"]},"legend":null}}},
{"data":{"values":[
{"t":"(002)","x":6.12,"y":10.2},{"t":"(004)","x":12.06,"y":9.45},{"t":"(006)","x":18.08,"y":8.95},{"t":"(020)(200)","x":22.92,"y":9.33},{"t":"(008)","x":23.8,"y":8.95},{"t":"(203)","x":24.72,"y":8.95},{"t":"(204)","x":25.7,"y":8.95},{"t":"(205)","x":27.4,"y":9.18},{"t":"(206)","x":29.09,"y":9.3},{"t":"(0010)","x":29.77,"y":9.39},{"t":"(207)","x":30.87,"y":9.82},{"t":"(221)(220)","x":32.75,"y":9.68},{"t":"(208)","x":33.5,"y":9.16},{"t":"(0012)","x":36.0,"y":9.16},{"t":"(0014)","x":41.88,"y":9.1},{"t":"(400)","x":46.42,"y":9.59},{"t":"(404)","x":47.85,"y":9.01},{"t":"(0016)","x":48.68,"y":9.01}
]},
"mark":{"type":"text","angle":270,"align":"left","baseline":"middle","font":"Liberation Serif","fontSize":14,"color":"#111111"},
"encoding":{"x":{"field":"x","type":"quantitative"},"y":{"field":"y","type":"quantitative"},"text":{"field":"t","type":"nominal"}}},
{"data":{"values":[
{"ph":"KNbO₃","x":31.82,"y":9.53},{"ph":"KNbO₃","x":31.7,"y":8.61},{"ph":"KNbO₃","x":31.7,"y":7.6},{"ph":"KNbO₃","x":31.7,"y":6.56},{"ph":"KNbO₃","x":31.7,"y":5.5},
{"ph":"Sr₂Nb₂O₇","x":30.49,"y":9.48},{"ph":"Sr₂Nb₂O₇","x":31.27,"y":9.53},{"ph":"Sr₂Nb₂O₇","x":42.91,"y":9.39},{"ph":"Sr₂Nb₂O₇","x":44.04,"y":9.31},{"ph":"Sr₂Nb₂O₇","x":44.06,"y":8.3},{"ph":"Sr₂Nb₂O₇","x":44.06,"y":7.27},{"ph":"Sr₂Nb₂O₇","x":44.06,"y":6.34},{"ph":"Sr₂Nb₂O₇","x":44.06,"y":5.27}
]},
"mark":{"type":"point","size":40,"strokeWidth":1,"opacity":1},
"encoding":{"x":{"field":"x","type":"quantitative"},"y":{"field":"y","type":"quantitative"},
"shape":{"field":"ph","type":"nominal","scale":{"domain":["KNbO₃","Sr₂Nb₂O₇"],"range":["square","circle"]},"legend":{"title":null,"orient":"top-right","direction":"horizontal","offset":0}},
"fill":{"field":"ph","type":"nominal","scale":{"domain":["KNbO₃","Sr₂Nb₂O₇"],"range":["black","white"]},"legend":{"title":null,"orient":"top-right","direction":"horizontal","offset":0}},
"stroke":{"field":"ph","type":"nominal","scale":{"domain":["KNbO₃","Sr₂Nb₂O₇"],"range":["black","#222222"]},"legend":{"title":null,"orient":"top-right","direction":"horizontal","offset":0}}}},
{"data":{"values":[
{"t":"0 mol%","y":0.17},{"t":"3 mol%","y":1.22},{"t":"5 mol%","y":2.23},{"t":"7 mol%","y":3.25},{"t":"9 mol%","y":4.23},{"t":"10 mol%","y":5.25},{"t":"11 mol%","y":6.26},{"t":"15 mol%","y":7.22},{"t":"20 mol%","y":8.23},{"t":"30 mol%","y":9.28}
]},
"mark":{"type":"text","align":"left","baseline":"middle","dx":4,"font":"Liberation Serif","fontSize":20,"color":"black"},
"encoding":{"x":{"datum":50},"y":{"field":"y","type":"quantitative"},"text":{"field":"t","type":"nominal"}}}
]
}
